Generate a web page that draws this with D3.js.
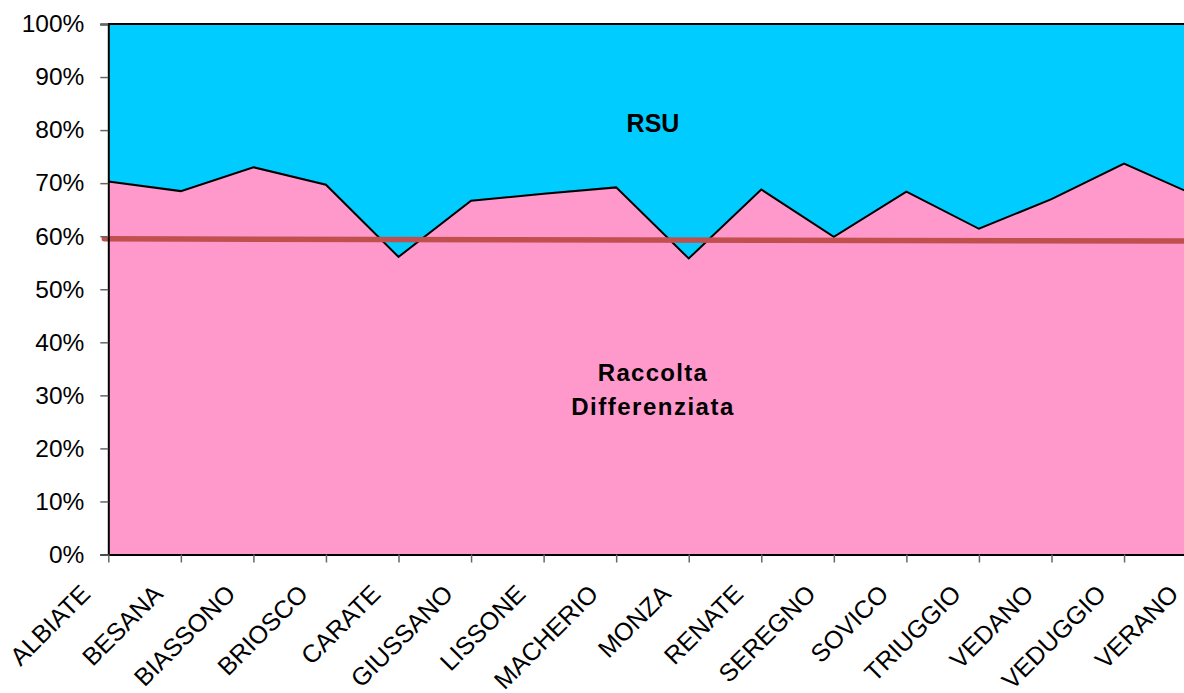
<!DOCTYPE html>
<html>
<head>
<meta charset="utf-8">
<script src="https://cdn.jsdelivr.net/npm/d3@7"></script>
<style>
  body { margin: 0; background: #fff; }
  svg { display: block; font-family: Arial, "Liberation Sans", sans-serif; }
</style>
</head>
<body>
<div id="chart"></div>
<script>
// comuni on the category axis
const comuni = ["ALBIATE", "BESANA", "BIASSONO", "BRIOSCO", "CARATE", "GIUSSANO", "LISSONE", "MACHERIO",
  "MONZA", "RENATE", "SEREGNO", "SOVICO", "TRIUGGIO", "VEDANO", "VEDUGGIO", "VERANO"];
// share (%) of raccolta differenziata
const raccoltaDiff = [70.3, 68.5, 73.0, 69.7, 56.1, 66.7, 68.0, 69.2, 55.8, 68.8, 59.9, 68.4, 61.4, 67.0, 73.7, 67.6];
// share (%) of RSU
const rsu = [29.7, 31.5, 27.0, 30.3, 43.9, 33.3, 32.0, 30.8, 44.2, 31.2, 40.1, 31.6, 38.6, 33.0, 26.3, 32.4];
// average line, at first and last comune
const mediaCat = ["ALBIATE", "VERANO"];
const mediaVal = [59.5, 59.1];
const yTicks = [0, 10, 20, 30, 40, 50, 60, 70, 80, 90, 100];

const width = 1184, height = 693;
const margin = { top: 24, left: 108.3, bottom: 554.5, right: 1196.6 };

const svg = d3.select("#chart").append("svg")
  .attr("width", width)
  .attr("height", height);

const x = d3.scalePoint().domain(comuni).range([margin.left, margin.right]);
const y = d3.scaleLinear().domain([0, 100]).range([margin.bottom, margin.top]);

const rows = comuni.map((c, i) => ({ comune: c, rd: raccoltaDiff[i], rsu: rsu[i] }));
const series = d3.stack().keys(["rd", "rsu"])(rows);
const colors = { rd: "#ff99cc", rsu: "#00ccff" };

const area = d3.area()
  .x(d => x(d.data.comune))
  .y0(d => y(d[0]))
  .y1(d => y(d[1]));

svg.append("g").selectAll("path")
  .data(series)
  .join("path")
  .attr("d", area)
  .attr("fill", d => colors[d.key]);

// outlines on top of each layer
const line = d3.line()
  .x(d => x(d.data.comune))
  .y(d => y(d[1]));
svg.append("g").selectAll("path")
  .data(series)
  .join("path")
  .attr("d", line)
  .attr("fill", "none")
  .attr("stroke", "#000")
  .attr("stroke-width", 2);

// average line
const mediaLine = d3.line()
  .x(d => x(d.c))
  .y(d => y(d.v));
svg.append("path")
  .datum(mediaCat.map((c, i) => ({ c: c, v: mediaVal[i] })))
  .attr("d", mediaLine)
  .attr("transform", "translate(-4,0)")
  .attr("fill", "none")
  .attr("stroke", "#c0504d")
  .attr("stroke-width", 5.5)
  .attr("stroke-linecap", "round");

// y axis
const yAxis = svg.append("g")
  .attr("transform", `translate(${margin.left},0)`)
  .call(d3.axisLeft(y).tickValues(yTicks).tickFormat(d => d + "%").tickSize(8).tickPadding(16));
yAxis.select(".domain").attr("stroke", "#000").attr("stroke-width", 2);
yAxis.selectAll(".tick line").attr("stroke", "#666").attr("stroke-width", 1.5);
yAxis.selectAll(".tick text").attr("font-size", 24.5).attr("fill", "#000")
  .attr("font-family", "Arial, 'Liberation Sans', sans-serif");

// x axis
const xAxis = svg.append("g")
  .attr("transform", `translate(0,${margin.bottom})`)
  .call(d3.axisBottom(x).tickSize(8).tickSizeOuter(0));
xAxis.select(".domain").attr("stroke", "#000").attr("stroke-width", 2);
xAxis.selectAll(".tick line").attr("stroke", "#666").attr("stroke-width", 1.5);
xAxis.selectAll(".tick text")
  .attr("font-size", 25)
  .attr("fill", "#000")
  .attr("font-family", "Arial, 'Liberation Sans', sans-serif")
  .attr("text-anchor", "end")
  .attr("x", null).attr("y", null).attr("dy", null)
  .attr("transform", "translate(-17,41) rotate(-45)");

// top border
svg.append("line")
  .attr("x1", margin.left).attr("x2", width)
  .attr("y1", y(100)).attr("y2", y(100))
  .attr("stroke", "#000").attr("stroke-width", 2);

// series labels
svg.append("text")
  .attr("x", 653).attr("y", 132)
  .attr("text-anchor", "middle")
  .attr("font-size", 25).attr("font-weight", "bold")
  .text("RSU");
svg.append("text")
  .attr("x", 653).attr("y", 381)
  .attr("text-anchor", "middle")
  .attr("font-size", 24).attr("font-weight", "bold")
  .attr("letter-spacing", 1.3)
  .text("Raccolta");
svg.append("text")
  .attr("x", 653).attr("y", 415)
  .attr("text-anchor", "middle")
  .attr("font-size", 24).attr("font-weight", "bold")
  .attr("letter-spacing", 1.5)
  .text("Differenziata");
</script>
</body>
</html>
